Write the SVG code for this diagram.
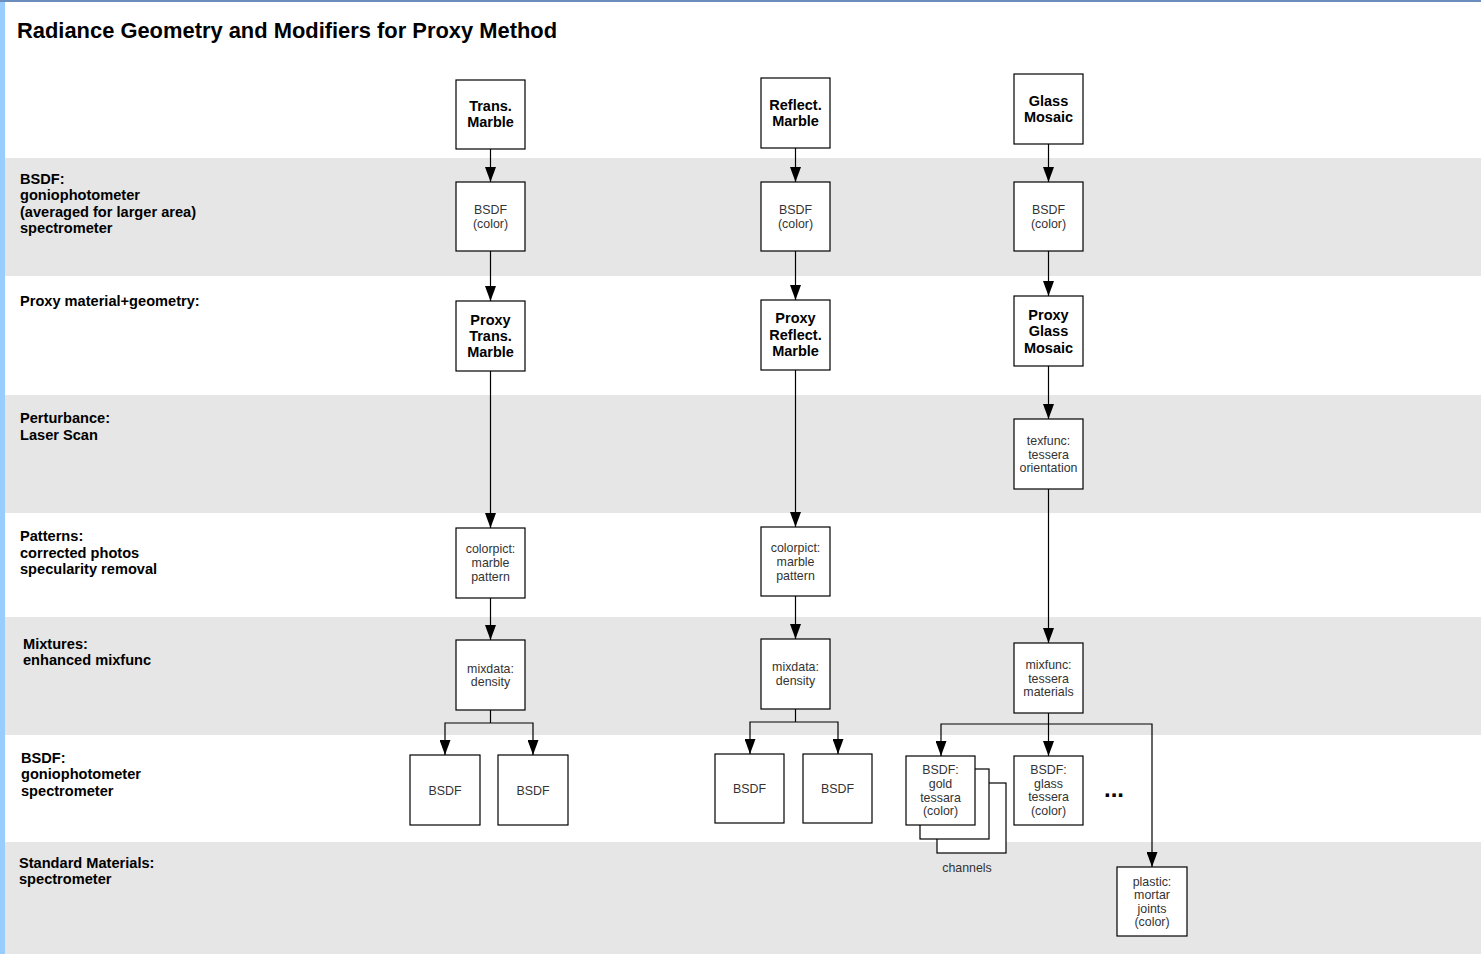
<svg xmlns="http://www.w3.org/2000/svg" width="1481" height="954" viewBox="0 0 1481 954">
<defs>
<marker id="arr" markerWidth="15" markerHeight="11" refX="15" refY="5.5" orient="auto" markerUnits="userSpaceOnUse" viewBox="0 0 15 11">
<path d="M0,0 L15,5.5 L0,11 Z" fill="#000"/>
</marker>
<style>
.band{fill:#e6e6e6}
.box{fill:#fff;stroke:#000;stroke-width:1.2}
.lab{font-family:"Liberation Sans",Arial,sans-serif;font-size:14.6px;font-weight:bold;fill:#000}
.bl{font-family:"Liberation Sans",Arial,sans-serif;font-size:14.5px;font-weight:bold;fill:#000;text-anchor:middle}
.sm{font-family:"Liberation Sans",Arial,sans-serif;font-size:12.4px;fill:#333;text-anchor:middle}
.ln{fill:none;stroke:#000;stroke-width:1.2}
.la{fill:none;stroke:#000;stroke-width:1.2;marker-end:url(#arr)}
</style>
</defs>
<rect x="0" y="0" width="1481" height="954" fill="#fff"/>
<g id="bands">
<rect class="band" x="5" y="158" width="1476" height="118"/>
<rect class="band" x="5" y="395" width="1476" height="118"/>
<rect class="band" x="5" y="617" width="1476" height="118"/>
<rect class="band" x="5" y="842" width="1476" height="112"/>
</g>
<rect x="0" y="0" width="5" height="954" fill="#99ccff"/>
<line x1="0" y1="1" x2="1481" y2="1" stroke="#6c8ebf" stroke-width="2"/>
<text x="17" y="38" font-family="Liberation Sans, Arial, sans-serif" font-size="21.9" font-weight="bold" fill="#000">Radiance Geometry and Modifiers for Proxy Method</text>
<g id="row-labels">
<text class="lab" x="20" y="184">BSDF:</text>
<text class="lab" x="20" y="200">goniophotometer</text>
<text class="lab" x="20" y="217">(averaged for larger area)</text>
<text class="lab" x="20" y="233">spectrometer</text>
<text class="lab" x="20" y="306">Proxy material+geometry:</text>
<text class="lab" x="20" y="423">Perturbance:</text>
<text class="lab" x="20" y="440">Laser Scan</text>
<text class="lab" x="20" y="541">Patterns:</text>
<text class="lab" x="20" y="558">corrected photos</text>
<text class="lab" x="20" y="574">specularity removal</text>
<text class="lab" x="23" y="649">Mixtures:</text>
<text class="lab" x="23" y="665">enhanced mixfunc</text>
<text class="lab" x="21" y="763">BSDF:</text>
<text class="lab" x="21" y="779">goniophotometer</text>
<text class="lab" x="21" y="796">spectrometer</text>
<text class="lab" x="19" y="868">Standard Materials:</text>
<text class="lab" x="19" y="884">spectrometer</text>
</g>
<g id="connectors">
<line class="la" x1="490.5" y1="149" x2="490.5" y2="182"/>
<line class="la" x1="490.5" y1="251" x2="490.5" y2="301"/>
<line class="la" x1="490.5" y1="371" x2="490.5" y2="528"/>
<line class="la" x1="490.5" y1="598" x2="490.5" y2="640"/>
<polyline class="ln" points="490.5,710 490.5,723"/>
<polyline class="la" points="490.5,723 445,723 445,755"/>
<polyline class="la" points="490.5,723 533,723 533,755"/>
<line class="la" x1="795.5" y1="148" x2="795.5" y2="182"/>
<line class="la" x1="795.5" y1="251" x2="795.5" y2="300"/>
<line class="la" x1="795.5" y1="370" x2="795.5" y2="527"/>
<line class="la" x1="795.5" y1="596" x2="795.5" y2="639"/>
<polyline class="ln" points="795.5,709 795.5,722"/>
<polyline class="la" points="795.5,722 750,722 750,754"/>
<polyline class="la" points="795.5,722 838,722 838,754"/>
<line class="la" x1="1048.5" y1="144" x2="1048.5" y2="182"/>
<line class="la" x1="1048.5" y1="251" x2="1048.5" y2="296"/>
<line class="la" x1="1048.5" y1="366" x2="1048.5" y2="419"/>
<line class="la" x1="1048.5" y1="489" x2="1048.5" y2="643"/>
<line class="la" x1="1048.5" y1="713" x2="1048.5" y2="756"/>
<polyline class="la" points="1048.5,724 941,724 941,756"/>
<polyline class="la" points="1048.5,724 1152,724 1152,867"/>
</g>
<g id="n-trans-marble"><rect class="box" x="456" y="80" width="69" height="69"/><text class="bl" x="490.5" y="111">Trans.</text><text class="bl" x="490.5" y="127">Marble</text></g>
<g id="n-bsdf1"><rect class="box" x="456" y="182" width="69" height="69"/><text class="sm" x="490.5" y="214">BSDF</text><text class="sm" x="490.5" y="228">(color)</text></g>
<g id="n-proxy-trans"><rect class="box" x="456" y="301" width="69" height="70"/><text class="bl" x="490.5" y="325">Proxy</text><text class="bl" x="490.5" y="341">Trans.</text><text class="bl" x="490.5" y="357">Marble</text></g>
<g id="n-colorpict1"><rect class="box" x="456" y="528" width="69" height="70"/><text class="sm" x="490.5" y="553">colorpict:</text><text class="sm" x="490.5" y="567">marble</text><text class="sm" x="490.5" y="581">pattern</text></g>
<g id="n-mixdata1"><rect class="box" x="456" y="640" width="69" height="70"/><text class="sm" x="490.5" y="673">mixdata:</text><text class="sm" x="490.5" y="686">density</text></g>
<g id="n-bsdf1a"><rect class="box" x="410" y="755" width="70" height="70"/><text class="sm" x="445" y="795">BSDF</text></g>
<g id="n-bsdf1b"><rect class="box" x="498" y="755" width="70" height="70"/><text class="sm" x="533" y="795">BSDF</text></g>
<g id="n-reflect-marble"><rect class="box" x="761" y="78" width="69" height="70"/><text class="bl" x="795.5" y="110">Reflect.</text><text class="bl" x="795.5" y="126">Marble</text></g>
<g id="n-bsdf2"><rect class="box" x="761" y="182" width="69" height="69"/><text class="sm" x="795.5" y="214">BSDF</text><text class="sm" x="795.5" y="228">(color)</text></g>
<g id="n-proxy-reflect"><rect class="box" x="761" y="300" width="69" height="70"/><text class="bl" x="795.5" y="323">Proxy</text><text class="bl" x="795.5" y="340">Reflect.</text><text class="bl" x="795.5" y="356">Marble</text></g>
<g id="n-colorpict2"><rect class="box" x="761" y="527" width="69" height="69"/><text class="sm" x="795.5" y="552">colorpict:</text><text class="sm" x="795.5" y="566">marble</text><text class="sm" x="795.5" y="580">pattern</text></g>
<g id="n-mixdata2"><rect class="box" x="761" y="639" width="69" height="70"/><text class="sm" x="795.5" y="671">mixdata:</text><text class="sm" x="795.5" y="685">density</text></g>
<g id="n-bsdf2a"><rect class="box" x="715" y="754" width="69" height="69"/><text class="sm" x="749.5" y="793">BSDF</text></g>
<g id="n-bsdf2b"><rect class="box" x="803" y="754" width="69" height="69"/><text class="sm" x="837.5" y="793">BSDF</text></g>
<g id="n-glass-mosaic"><rect class="box" x="1014" y="74" width="69" height="70"/><text class="bl" x="1048.5" y="106">Glass</text><text class="bl" x="1048.5" y="122">Mosaic</text></g>
<g id="n-bsdf3"><rect class="box" x="1014" y="182" width="69" height="69"/><text class="sm" x="1048.5" y="214">BSDF</text><text class="sm" x="1048.5" y="228">(color)</text></g>
<g id="n-proxy-glass"><rect class="box" x="1014" y="296" width="69" height="70"/><text class="bl" x="1048.5" y="320">Proxy</text><text class="bl" x="1048.5" y="336">Glass</text><text class="bl" x="1048.5" y="353">Mosaic</text></g>
<g id="n-texfunc"><rect class="box" x="1014" y="419" width="69" height="70"/><text class="sm" x="1048.5" y="445">texfunc:</text><text class="sm" x="1048.5" y="459">tessera</text><text class="sm" x="1048.5" y="472">orientation</text></g>
<g id="n-mixfunc"><rect class="box" x="1014" y="643" width="69" height="70"/><text class="sm" x="1048.5" y="669">mixfunc:</text><text class="sm" x="1048.5" y="683">tessera</text><text class="sm" x="1048.5" y="696">materials</text></g>
<g id="n-gold">
<rect class="box" x="937" y="783" width="69" height="70"/>
<rect class="box" x="920" y="769" width="69" height="70"/>
<rect class="box" x="906" y="756" width="69" height="69"/>
<text class="sm" x="940.5" y="774">BSDF:</text><text class="sm" x="940.5" y="788">gold</text><text class="sm" x="940.5" y="802">tessara</text><text class="sm" x="940.5" y="815">(color)</text>
<text class="sm" x="967" y="872">channels</text>
</g>
<g id="n-glass"><rect class="box" x="1014" y="756" width="69" height="69"/><text class="sm" x="1048.5" y="774">BSDF:</text><text class="sm" x="1048.5" y="788">glass</text><text class="sm" x="1048.5" y="801">tessera</text><text class="sm" x="1048.5" y="815">(color)</text></g>
<g id="n-ellipsis"><text x="1114" y="797" font-family="Liberation Sans, Arial, sans-serif" font-size="24" font-weight="bold" text-anchor="middle" fill="#000">...</text></g>
<g id="n-plastic"><rect class="box" x="1117" y="867" width="70" height="69"/><text class="sm" x="1152" y="886">plastic:</text><text class="sm" x="1152" y="899">mortar</text><text class="sm" x="1152" y="913">joints</text><text class="sm" x="1152" y="926">(color)</text></g>
</svg>
